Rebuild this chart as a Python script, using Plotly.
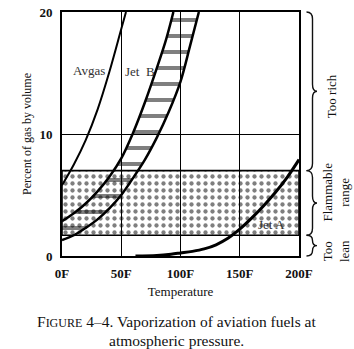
import plotly.graph_objects as go

# ---- data: vapour concentration (% by volume) against temperature (deg F) ----
avgas_temp = [0, 10, 20, 30, 40, 50, 54]
avgas_pct = [5.8, 7.5, 9.5, 12.0, 15.1, 18.6, 20.0]

# Jet B is a band between a more volatile (upper) and a less volatile (lower) edge
jetb_hi_temp = [0, 10, 20, 30, 40, 50, 60, 70, 80, 88, 94]
jetb_hi_pct = [2.85, 3.5, 4.3, 5.3, 6.5, 8.0, 10.1, 12.6, 15.4, 17.8, 20.0]
jetb_lo_temp = [0, 10, 20, 30, 40, 50, 60, 70, 80, 90, 100, 108, 115.5]
jetb_lo_pct = [1.3, 1.7, 2.3, 3.0, 3.9, 5.0, 6.4, 7.9, 9.7, 11.8, 14.3, 17.2, 20.0]

jeta_temp = [62, 80, 92, 100, 110, 120, 130, 140, 150, 160, 170, 180, 190, 200]
jeta_pct = [0, 0.05, 0.15, 0.25, 0.38, 0.58, 0.92, 1.45, 2.2, 3.1, 4.1, 5.2, 6.45, 7.9]

flammable_range = [1.7, 7.0]          # lean limit, rich limit
temp_range = [0, 200]
pct_range = [0, 20]

temp_ticks = [0, 50, 100, 150, 200]
temp_labels = ["0F", "50F", "100F", "150F", "200F"]
pct_ticks = [0, 10, 20]
pct_labels = ["0", "10", "20"]

zone_names = ["Too<br>lean", "Flammable<br>range", "Too rich"]

# ---- page geometry ----
W, H = 354, 349
ML, MR, MT, MB = 62, 55, 12, 93
PW, PH = W - ML - MR, H - MT - MB
SERIF = "Liberation Serif"
INK = "#111111"


def paper_x(px):
    return (px - ML) / PW


def paper_y(py):
    return (MT + PH - py) / PH


def pct_to_paper(p):
    return (p - pct_range[0]) / (pct_range[1] - pct_range[0])


fig = go.Figure()

# stippled flammable band
lo, hi = flammable_range
fig.add_trace(go.Scatter(
    x=[temp_range[0], temp_range[1], temp_range[1], temp_range[0], temp_range[0]],
    y=[lo, lo, hi, hi, lo],
    mode="lines", fill="toself",
    fillcolor="rgba(0,0,0,0)",
    fillpattern=dict(shape=".", size=7, solidity=0.3, fgcolor="black",
                     bgcolor="rgba(0,0,0,0)"),
    line=dict(color="black", width=1.6),
    hoverinfo="skip", showlegend=False,
))

# hatched Jet B band
fig.add_trace(go.Scatter(
    x=jetb_hi_temp + jetb_lo_temp[::-1],
    y=jetb_hi_pct + jetb_lo_pct[::-1],
    mode="none", fill="toself",
    fillcolor="rgba(0,0,0,0)",
    fillpattern=dict(shape="-", size=16, solidity=0.25, fgcolor="black",
                     bgcolor="rgba(0,0,0,0)"),
    hoverinfo="skip", showlegend=False,
))

curve_style = dict(mode="lines", hoverinfo="skip", showlegend=False)
fig.add_trace(go.Scatter(x=avgas_temp, y=avgas_pct,
                         line=dict(color="black", width=2, shape="spline"), **curve_style))
fig.add_trace(go.Scatter(x=jetb_hi_temp, y=jetb_hi_pct,
                         line=dict(color="black", width=2.5, shape="spline"), **curve_style))
fig.add_trace(go.Scatter(x=jetb_lo_temp, y=jetb_lo_pct,
                         line=dict(color="black", width=2.5, shape="spline"), **curve_style))
fig.add_trace(go.Scatter(x=jeta_temp, y=jeta_pct,
                         line=dict(color="black", width=3, shape="spline"), **curve_style))

# curve labels
label_font = dict(family=SERIF, size=13, color="#333333")
fig.add_annotation(x=22.6, y=15.2, text="Avgas", showarrow=False, font=label_font)
fig.add_annotation(x=65.5, y=15.1, text="Jet\u2002B", showarrow=False, font=label_font)
fig.add_annotation(x=176.5, y=2.6, text="Jet A", showarrow=False, font=label_font)

# curly braces marking the mixture zones
bounds = [pct_range[0], lo, hi, pct_range[1]]
xe, xv, xt = paper_x(306.5), paper_x(312.5), paper_x(317)
shapes = []
for k in range(3):
    y0, y1 = pct_to_paper(bounds[k]), pct_to_paper(bounds[k + 1])
    ym = (y0 + y1) / 2
    r = min(7 / PH, (y1 - y0) / 4)
    path = (f"M{xe},{y1} Q{xv},{y1} {xv},{y1 - r} L{xv},{ym + r} "
            f"Q{xv},{ym} {xt},{ym} Q{xv},{ym} {xv},{ym - r} "
            f"L{xv},{y0 + r} Q{xv},{y0} {xe},{y0}")
    shapes.append(dict(type="path", path=path, xref="paper", yref="paper",
                       line=dict(color=INK, width=1.4)))
fig.update_layout(shapes=shapes)

zone_font = dict(family=SERIF, size=13, color=INK)
fig.add_annotation(xref="paper", yref="y", x=paper_x(331), y=13.1, text=zone_names[2],
                   textangle=-90, showarrow=False, font=zone_font,
                   xanchor="center", yanchor="middle")
fig.add_annotation(xref="paper", yref="y", x=paper_x(336), y=5.2, text=zone_names[1],
                   textangle=-90, showarrow=False, font=zone_font,
                   xanchor="center", yanchor="middle")
fig.add_annotation(xref="paper", yref="y", x=paper_x(336), y=0.4, text=zone_names[0],
                   textangle=-90, showarrow=False, font=zone_font,
                   xanchor="center", yanchor="middle")

# caption
cap_font = dict(family=SERIF, size=15.5, color=INK)
fig.add_annotation(xref="paper", yref="paper", x=paper_x(176), y=paper_y(321),
                   text='F<span style="font-size:12px">IGURE</span> 4\u20134. '
                        'Vaporization of aviation fuels at',
                   showarrow=False, font=cap_font, xanchor="center", yanchor="middle")
fig.add_annotation(xref="paper", yref="paper", x=paper_x(176), y=paper_y(340),
                   text="atmospheric pressure.", showarrow=False, font=cap_font,
                   xanchor="center", yanchor="middle")

axis_common = dict(
    showline=True, mirror=True, linecolor="black", linewidth=1.6,
    showgrid=True, gridcolor="black", gridwidth=1, zeroline=False,
    ticks="outside", tickcolor="rgba(0,0,0,0)",
    tickfont=dict(family=SERIF, size=13, color=INK, weight="bold"),
)
fig.update_xaxes(range=temp_range, tickvals=temp_ticks, ticktext=temp_labels,
                 ticklen=5,
                 title=dict(text="Temperature", font=dict(family=SERIF, size=13, color=INK),
                            standoff=6),
                 **axis_common)
fig.update_yaxes(range=pct_range, tickvals=pct_ticks, ticktext=pct_labels,
                 ticklen=5,
                 title=dict(text="Percent of gas by volume",
                            font=dict(family=SERIF, size=12, color=INK), standoff=5),
                 **axis_common)

fig.update_layout(
    width=W, height=H,
    margin=dict(l=ML, r=MR, t=MT, b=MB, autoexpand=False),
    paper_bgcolor="white", plot_bgcolor="white",
    showlegend=False,
)

fig.write_html("out.html")
